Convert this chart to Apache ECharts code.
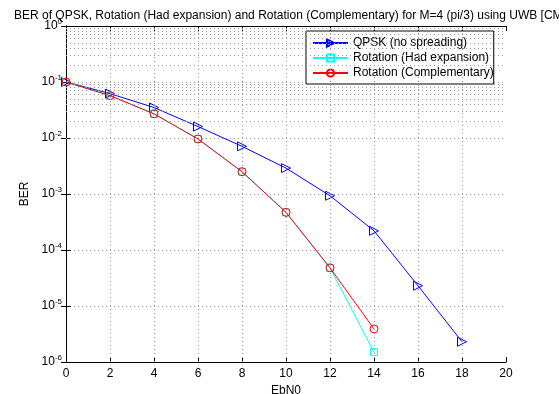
<!DOCTYPE html>
<html><head><meta charset="utf-8">
<script src="https://cdn.jsdelivr.net/npm/echarts@6/dist/echarts.min.js"></script>
<style>html,body{margin:0;padding:0;background:#fff}#c{width:559px;height:394px}</style>
</head><body><div id="c"></div>
<script>
const ebn0 = [0, 2, 4, 6, 8, 10, 12, 14, 16, 18];
const qpsk = [0.1, 0.062, 0.035, 0.016, 0.0071, 0.0029, 0.00093, 0.00022, 0.000023, 0.0000023];
const hadExp = [0.1, 0.057, 0.027, 0.0096, 0.0025, 0.00047, 0.000048, 0.0000015];
const compl = [0.1, 0.057, 0.027, 0.0096, 0.0025, 0.00047, 0.000048, 0.0000039];
const xTicks = [0, 2, 4, 6, 8, 10, 12, 14, 16, 18, 20];
const titleText = 'BER of QPSK, Rotation (Had expansion) and Rotation (Complementary) for M=4 (pi/3) using UWB [CM1]';
const seriesNames = ['QPSK (no spreading)', 'Rotation (Had expansion)', 'Rotation (Complementary)'];

const FONT = 'Liberation Sans, Arial, Helvetica, sans-serif';
const pairs = (xs, ys) => ys.map((y, i) => [xs[i], y]);

// minor grid values for log axis (2..9 per decade) and vertical grid lines
const gridY = [];
for (let e = -6; e < 0; e++) { for (let m = 2; m <= 9; m++) gridY.push(m * Math.pow(10, e)); }
const gridX = xTicks.slice(1, -1);
const gridStyle = { color: '#999', width: 1, type: [1, 3] };

const chart = echarts.init(document.getElementById('c'), null, { renderer: 'canvas' });
const supLabel = v => { const e = Math.round(Math.log10(v)); return '{b|10}{s|' + e + '}'; };
const richY = {
  b: { fontSize: 12, fontFamily: FONT, color: '#000' },
  s: { fontSize: 8, fontFamily: FONT, color: '#000', verticalAlign: 'top', padding: [0, 0, 9, 0] }
};
const hollow = 'rgba(255,255,255,0)';

chart.setOption({
  animation: false,
  backgroundColor: '#fff',
  title: { text: titleText, left: 9, top: 5, textStyle: { fontSize: 12, fontWeight: 'normal', fontFamily: FONT, color: '#000' } },
  grid: { left: 66, right: 53, top: 26, bottom: 32, containLabel: false, outerBoundsMode: 'none' },
  legend: {
    orient: 'vertical', left: 306, top: 31, data: seriesNames,
    backgroundColor: '#fff', borderColor: '#000', borderWidth: 1, borderRadius: 0,
    padding: [6, 0, 5, 6], itemGap: 3, itemWidth: 35, itemHeight: 9,
    textStyle: { fontSize: 12, fontFamily: FONT, color: '#000' }
  },
  xAxis: [{
    type: 'value', min: 0, max: 20, interval: 2, name: 'EbN0', nameLocation: 'middle', nameGap: 16,
    nameTextStyle: { fontSize: 12, fontFamily: FONT, color: '#000' },
    axisLine: { lineStyle: { color: '#000', width: 1 } },
    axisTick: { inside: true, length: 5, lineStyle: { color: '#000' } },
    axisLabel: { fontSize: 12, fontFamily: FONT, color: '#000', margin: 6 },
    splitLine: { show: false }
  }, {
    type: 'value', min: 0, max: 20, interval: 2, position: 'top',
    axisLine: { lineStyle: { color: '#000', width: 1 } },
    axisTick: { inside: true, length: 5, lineStyle: { color: '#000' } },
    axisLabel: { show: false }, splitLine: { show: false }
  }],
  yAxis: [{
    type: 'log', logBase: 10, min: 1e-6, max: 1, name: 'BER', nameLocation: 'middle', nameGap: 28,
    nameTextStyle: { fontSize: 12, fontFamily: FONT, color: '#000' },
    axisLine: { lineStyle: { color: '#000', width: 1 } },
    axisTick: { inside: true, length: 5, lineStyle: { color: '#000' } },
    axisLabel: { formatter: supLabel, rich: richY, margin: 4 },
    splitLine: { show: true, lineStyle: gridStyle }
  }, {
    type: 'log', logBase: 10, min: 1e-6, max: 1, position: 'right',
    axisLine: { lineStyle: { color: '#000', width: 1 } },
    axisTick: { inside: true, length: 5, lineStyle: { color: '#000' } },
    axisLabel: { show: false }, splitLine: { show: false }
  }],
  series: [
    {
      name: 'grid', type: 'line', data: [], silent: true, z: 1,
      markLine: {
        silent: true, symbol: 'none', label: { show: false }, animation: false,
        lineStyle: gridStyle,
        data: gridY.map(v => ({ yAxis: v })).concat(gridX.map(v => ({ xAxis: v })))
      }
    },
    {
      name: seriesNames[0], type: 'line', data: pairs(ebn0, qpsk), z: 3,
      symbol: 'triangle', symbolRotate: -90, symbolSize: 9,
      lineStyle: { color: '#0000ff', width: 1 },
      itemStyle: { color: hollow, borderColor: '#0000ff', borderWidth: 1 }
    },
    {
      name: seriesNames[1], type: 'line', data: pairs(ebn0, hadExp), z: 3,
      symbol: 'rect', symbolSize: 7,
      lineStyle: { color: '#00ffff', width: 1 },
      itemStyle: { color: hollow, borderColor: '#00ffff', borderWidth: 1 }
    },
    {
      name: seriesNames[2], type: 'line', data: pairs(ebn0, compl), z: 4,
      symbol: 'circle', symbolSize: 8,
      lineStyle: { color: '#ff0000', width: 1 },
      itemStyle: { color: hollow, borderColor: '#ff0000', borderWidth: 1 }
    }
  ]
});
</script></body></html>
